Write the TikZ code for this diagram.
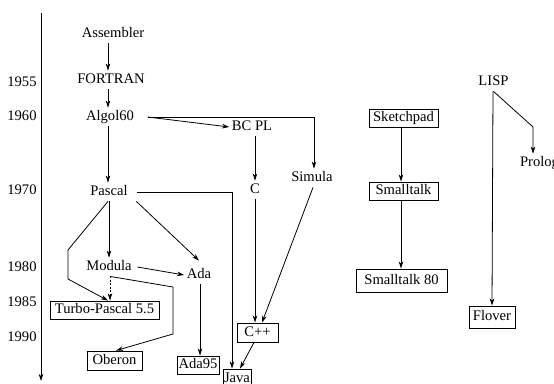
\documentclass[tikz,border=0pt]{standalone}
\usepackage{fontspec}
\setmainfont{Liberation Serif}
\usetikzlibrary{arrows.meta}
\tikzset{
  lbl/.style={inner sep=2.5pt, text height=10.2pt, text depth=3.2pt},
  yr/.style={inner sep=0pt},
  box/.style={draw, line width=0.9pt, inner sep=0pt, text height=10.2pt, text depth=3.2pt},
  con/.style={line width=0.8pt, -{Stealth[length=7pt,width=4.5pt,inset=2pt]}},
  dcon/.style={con, dashed, dash pattern=on 2pt off 1.5pt},
}
\begin{document}
\begin{tikzpicture}[x=1pt,y=-1pt,font=\fontsize{14.6}{17}\selectfont]
\clip (0,0) rectangle (554,383);
% axis
\coordinate (axtop) at (41,13);
\coordinate (axbot) at (41,381);
\draw[con] (axtop) -- (axbot);
% years
\node[yr] (y55) at (22,82) {1955};
\node[yr] (y60) at (22,116) {1960};
\node[yr] (y70) at (22,190) {1970};
\node[yr] (y80) at (22,267) {1980};
\node[yr] (y85) at (22,302) {1985};
\node[yr] (y90) at (22,337) {1990};
% text nodes
\node[lbl] (asm) at (113,34) {Assembler};
\node[lbl] (fort) at (111,80) {FORTRAN};
\node[lbl] (alg) at (110,117) {Algol60};
\node[lbl] (pas) at (109,192) {Pascal};
\node[lbl] (bcpl) at (252,127) {BC PL};
\node[lbl] (c) at (255,190) {C};
\node[lbl] (sim) at (312,178) {Simula};
\node[lbl] (mod) at (109,267) {Modula};
\node[lbl] (ada) at (199,275) {Ada};
\node[lbl] (lisp) at (493.5,82) {LISP};
\node[lbl] (prolog) at (539.5,163) {Prolog};
% boxed nodes
\node[box, minimum width=69pt, minimum height=18pt] (sk) at (403.5,118) {Sketchpad};
\node[box, minimum width=69pt, minimum height=18pt] (st) at (403.5,191) {Smalltalk};
\node[box, minimum width=91pt, minimum height=23pt] (st80) at (401.5,280.5) {Smalltalk 80};
\node[box, minimum width=46pt, minimum height=22pt] (flo) at (492,317) {Flover};
\node[box, minimum width=109pt, minimum height=18pt] (tp) at (104.5,310) {Turbo-Pascal 5.5};
\node[box, minimum width=55pt, minimum height=19pt] (obe) at (114.5,360.5) {Oberon};
\node[box, minimum width=42pt, minimum height=18pt] (ada95) at (198,365) {Ada95};
\node[box, minimum width=41pt, minimum height=19pt] (cpp) at (257.5,332.5) {C++};
\node[box, minimum width=28pt, minimum height=19pt] (java) at (237,378.5) {Java};
% connectors
\draw[con] ([xshift=-5pt]asm.south) -- ([xshift=-3pt]fort.north);
\draw[con] ([xshift=-3pt]fort.south) -- ([xshift=-2pt]alg.north);
\draw[con] ([xshift=-2pt]alg.south) -- ([xshift=-1pt]pas.north);
\draw[con] ([xshift=11pt]alg.east) -- (bcpl.west);
\draw[con] ([xshift=11pt]alg.east) -| ([xshift=2pt]sim.north);
\draw[con] ([xshift=3pt]bcpl.south) -- (c.north);
\draw[con] ([xshift=7pt]pas.east) -| ([xshift=-5pt]java.north);
\draw[con] (c.south) -- ([xshift=-2.5pt]cpp.north);
\draw[con] ([xshift=1pt]sim.south) -- ([xshift=4.5pt]cpp.north);
\draw[con] ([xshift=-3.5pt]cpp.south) -- ([xshift=3pt]java.north);
\draw[con] (pas.south) -- (mod.north);
\draw[con] ([xshift=6pt]pas.south east) -- ([yshift=5pt]ada.north);
\draw[con] ([xshift=-1pt]pas.south) -- (68,250) -- (68,279) -- ([xshift=3.5pt]tp.north);
\draw[dcon] ([xshift=1pt]mod.south) -- ([xshift=5.5pt]tp.north);
\draw[con] ([xshift=3pt]mod.east) -- (ada.west);
\draw[con] ([xshift=1pt]mod.south) -- (173,287) -- (173,334) -- ([xshift=1.5pt]obe.north);
\draw[con] ([xshift=1pt]ada.south) -- ([xshift=2pt]ada95.north);
\draw[con] ([xshift=-2.5pt]sk.south) -- ([xshift=-2.5pt]st.north);
\draw[con] ([xshift=-2.5pt]st.south) -- ([xshift=-0.5pt]st80.north);
\draw[con] (lisp.south) -- (533,127) -- ([xshift=-6.5pt]prolog.north);
\draw[con] ([xshift=-0.5pt]lisp.south) -- (flo.north);
\end{tikzpicture}
\end{document}
